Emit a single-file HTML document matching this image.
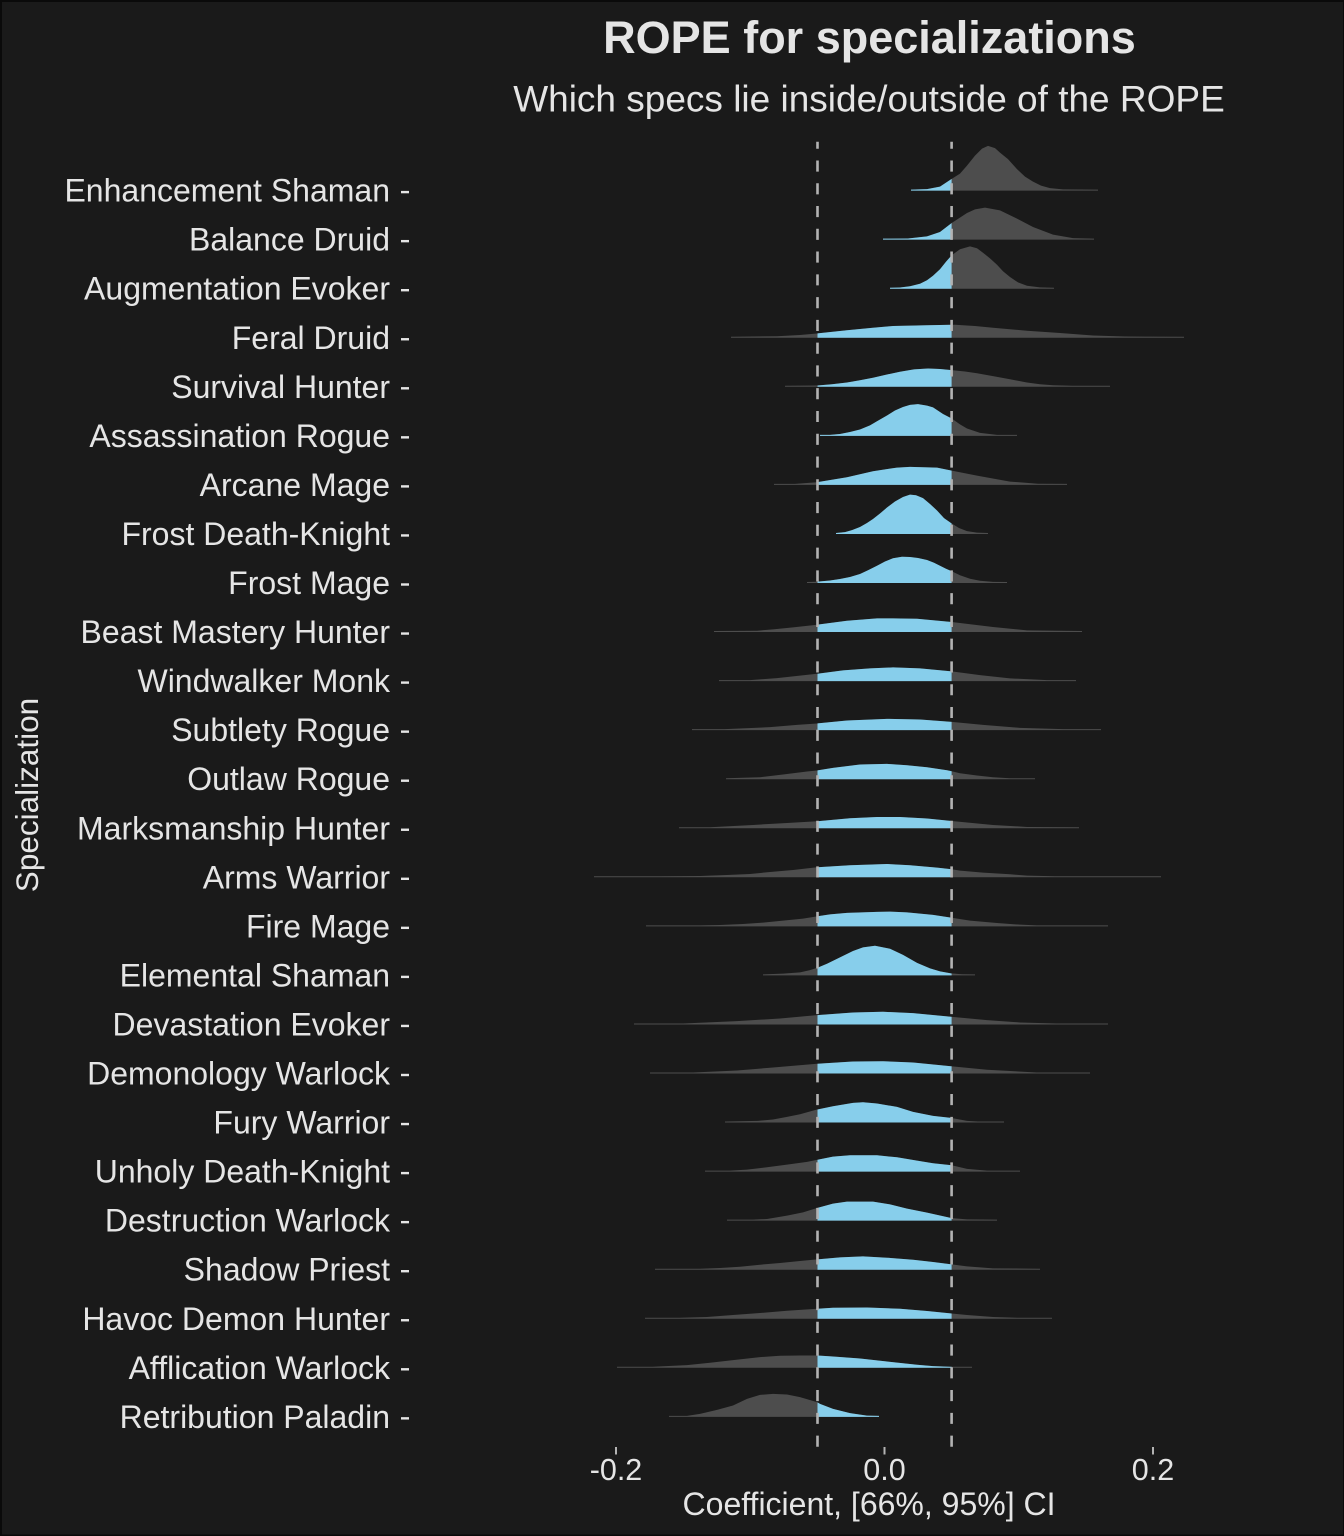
<!DOCTYPE html>
<html>
<head>
<meta charset="utf-8">
<style>
html,body{margin:0;padding:0;background:#1a1a1a;}
svg{display:block;}
text{font-family:"Liberation Sans",Arial,sans-serif;fill:#e5e5e5;}
</style>
</head>
<body>
<svg width="1344" height="1536" viewBox="0 0 1344 1536" xmlns="http://www.w3.org/2000/svg">
<rect x="0" y="0" width="1344" height="1536" fill="#1a1a1a"/>
<rect x="0" y="0" width="2" height="1536" fill="#0a0a0a"/>
<rect x="0" y="0" width="1344" height="2" fill="#0a0a0a"/>
<rect x="1343" y="0" width="1" height="1536" fill="#0a0a0a"/>
<rect x="0" y="1534.5" width="1344" height="1.5" fill="#0a0a0a"/>

<defs>
<clipPath id="rope" clipPathUnits="userSpaceOnUse"><rect x="817.5" y="100" width="134.1" height="1400"/></clipPath>
<polygon id="r0" transform="translate(0,190.6)" points="911,0 911,-1 927,-1.5 940,-4 951.7,-11.7 960,-17 967,-25 975,-35 982,-42 988,-44.7 995,-42.5 1000,-38 1008,-31.5 1017,-21.5 1025,-14 1033,-9 1041,-5 1050,-2.5 1063,-1.2 1098,-1 1098,0"/>
<polygon id="r1" transform="translate(0,239.65)" points="883,0 883,-1 908,-1.2 927,-3.3 940,-7.7 951.7,-16.7 967,-26.7 975,-30.3 985,-32 1000,-29.3 1017,-21 1033,-12.7 1053,-5 1073,-1.5 1094,-1 1094,0"/>
<polygon id="r2" transform="translate(0,288.7)" points="890,0 890,-1 900,-1.2 910,-2.5 920,-5 927,-8.5 933,-13 940,-19.5 946,-27 951.7,-33.5 960,-39.5 970,-42.3 977,-40.5 983,-36 990,-30.3 997,-24 1003,-17.5 1010,-11.7 1018,-6.3 1027,-3 1040,-1.3 1054,-1 1054,0"/>
<polygon id="r3" transform="translate(0,337.75)" points="731,0 731,-1 777,-1.5 800,-2.7 817,-4.3 847,-7.5 873,-10 893,-11.7 927,-12.5 955,-13 975,-11.8 993,-10 1027,-7 1060,-4.7 1093,-2.3 1125,-1.2 1184,-1 1184,0"/>
<polygon id="r4" transform="translate(0,386.8)" points="785,0 785,-1 817,-1.3 832,-2.5 847,-4.3 860,-6.5 873,-9 887,-12.3 900,-15 914,-17.4 928,-18.3 940,-17.8 951.7,-16.7 965,-15.3 977,-13.5 993,-10.7 1010,-7.5 1027,-4.3 1040,-2.6 1053,-1.6 1072,-1 1110,-1 1110,0"/>
<polygon id="r5" transform="translate(0,435.85)" points="820,0 820,-1 830,-1 840,-1.9 850,-3.8 860,-6.3 870,-10.5 877,-14.6 887,-20.4 895,-25.3 903,-28.9 910,-31 918,-31.7 927,-30.2 933,-28.5 943,-21.9 951.7,-17.3 960,-11.5 967,-7.3 980,-3 997,-1 1017,-1 1017,0"/>
<polygon id="r6" transform="translate(0,484.9)" points="774,0 774,-1 795,-1 817,-2.7 847,-7.7 873,-13.7 897,-17.3 910,-18 937,-17.3 951.7,-14.3 977,-9.3 1010,-3.3 1038,-1.2 1067,-1 1067,0"/>
<polygon id="r7" transform="translate(0,533.95)" points="836,0 836,-1 845,-1.8 852,-3.8 860,-7 867,-11 873,-15 880,-20.5 887,-26.4 895,-32.5 903,-37 910,-39.3 916,-38.7 923,-35.8 930,-29.9 937,-23.5 944,-15.8 951.7,-10.5 959,-6 967,-2.8 977,-1.3 988,-1 988,0"/>
<polygon id="r8" transform="translate(0,583.0)" points="807,0 807,-1 817,-1.3 830,-2.5 840,-4 850,-6 860,-9 868,-12.8 877,-17.3 885,-21.5 893,-24.8 902,-26.3 910,-26 918,-25 927,-23 934,-20.3 940,-17.3 946,-14.3 951.7,-11.7 960,-7.8 970,-4.3 980,-2.2 993,-1.1 1007,-1 1007,0"/>
<polygon id="r9" transform="translate(0,632.05)" points="714,0 714,-1 757,-1.3 773,-2.7 793,-4.7 817,-7.3 847,-11.3 877,-13.7 893,-13.7 917,-13.3 951.7,-10 960,-9 993,-5 1027,-1.7 1082,-1 1082,0"/>
<polygon id="r10" transform="translate(0,681.1)" points="719,0 719,-1 750,-1 777,-3 817,-7.3 843,-10.7 870,-12.7 893,-13.7 920,-12.7 951.7,-9.7 980,-6 1010,-2.7 1047,-1 1076,-1 1076,0"/>
<polygon id="r11" transform="translate(0,730.15)" points="692,0 692,-1 725,-1 770,-3 797,-5.3 817,-6.7 847,-9.7 887,-11.3 920,-10.7 951.7,-8.3 983,-5.3 1020,-2.3 1063,-1 1101,-1 1101,0"/>
<polygon id="r12" transform="translate(0,779.2)" points="726,0 726,-1 760,-2 783,-4.7 807,-7.7 817,-8.7 833,-11.3 860,-14.7 887,-15.3 907,-14 927,-12 947,-9 951.7,-8 960,-6 977,-3.7 993,-2 1010,-1 1035,-1 1035,0"/>
<polygon id="r13" transform="translate(0,828.25)" points="679,0 679,-1 710,-1 753,-3.3 787,-5.3 817,-7 850,-10 877,-11.3 900,-11.3 927,-9.7 951.7,-7.3 993,-3.3 1027,-1.3 1079,-1 1079,0"/>
<polygon id="r14" transform="translate(0,877.3)" points="594,0 594,-1 660,-1 700,-1.3 727,-2.3 750,-3.3 770,-5.3 793,-7.3 817,-10 850,-12 887,-13.3 910,-12 937,-9.7 951.7,-8 960,-6.7 983,-4.7 1010,-3 1027,-1.7 1055,-1 1161,-1 1161,0"/>
<polygon id="r15" transform="translate(0,926.35)" points="646,0 646,-1 700,-1 720,-1.3 743,-2.3 763,-3.7 783,-5.7 803,-7.7 817,-10 830,-12 847,-13.5 877,-14.5 890,-14.7 907,-14 933,-11.5 951,-8.7 970,-5.7 997,-3.3 1020,-1.7 1037,-1 1108,-1 1108,0"/>
<polygon id="r16" transform="translate(0,975.4)" points="763,0 763,-1 783,-1.8 800,-3 810,-5.3 817,-7.5 827,-11.6 840,-18 853,-24.4 863,-28 875,-29.7 890,-26.6 903,-20.5 917,-12.5 930,-7 940,-4 951,-2 962,-1.2 975,-1 975,0"/>
<polygon id="r17" transform="translate(0,1024.45)" points="634,0 634,-1 683,-1 737,-3.3 780,-6 817,-9.3 853,-12 883,-12.7 913,-11.3 951,-7.7 987,-4.3 1020,-2 1057,-1 1108,-1 1108,0"/>
<polygon id="r18" transform="translate(0,1073.5)" points="650,0 650,-1 693,-1 737,-3 773,-6 817,-9.7 853,-12 883,-12.3 913,-11 951,-7.3 987,-3.7 1037,-1 1090,-1 1090,0"/>
<polygon id="r19" transform="translate(0,1122.55)" points="725,0 725,-1 758,-1.7 773,-3 787,-5.7 800,-8.3 817,-13 833,-16.3 853,-19.7 863,-20.3 877,-19 897,-15.7 913,-10.7 933,-6.7 951,-4.7 967,-1.7 978,-1 1004,-1 1004,0"/>
<polygon id="r20" transform="translate(0,1171.6)" points="705,0 705,-1 730,-1 747,-2 767,-4.3 787,-7 807,-9.7 817,-11.7 833,-15 850,-16.3 877,-16.3 897,-14.3 917,-11 933,-8.3 951.7,-6.3 967,-2.7 987,-1 1020,-1 1020,0"/>
<polygon id="r21" transform="translate(0,1220.65)" points="727,0 727,-1 753,-1 767,-1.7 787,-5 803,-8.3 817,-12.7 833,-17 847,-19 873,-19 890,-16.3 907,-12 927,-8 951.7,-2.5 967,-1.3 997,-1 997,0"/>
<polygon id="r22" transform="translate(0,1269.7)" points="655,0 655,-1 700,-1 720,-1.7 740,-3 760,-5 780,-6.7 800,-8.7 817,-10.3 840,-12.3 863,-13.3 887,-12 913,-10 933,-7.7 951.7,-5.3 967,-3.3 993,-1.3 1040,-1 1040,0"/>
<polygon id="r23" transform="translate(0,1318.75)" points="645,0 645,-1 680,-1 707,-1.7 733,-3.7 760,-5.7 787,-8 817,-10 833,-11 867,-11.3 900,-10 927,-7.7 951.7,-5.3 967,-3.7 993,-1.7 1017,-1 1052,-1 1052,0"/>
<polygon id="r24" transform="translate(0,1367.8)" points="617,0 617,-1 653,-1 687,-2.7 710,-5 733,-7.7 760,-10.7 780,-12 800,-12.3 817,-12.3 833,-11.3 860,-9.3 887,-6.3 917,-3 933,-1.7 950,-1 972,-1 972,0"/>
<polygon id="r25" transform="translate(0,1416.85)" points="669,0 669,-1 687,-1 700,-3 717,-7 733,-11.3 747,-18 760,-22 773,-23 787,-22.3 800,-19.7 817,-14.7 820,-13 833,-8 850,-3.7 867,-1.2 879,-1 879,0"/>
</defs>

<!-- gray (outside ROPE) -->
<g fill="#4d4d4d">
<use href="#r0"/><use href="#r1"/><use href="#r2"/><use href="#r3"/><use href="#r4"/><use href="#r5"/><use href="#r6"/><use href="#r7"/><use href="#r8"/><use href="#r9"/><use href="#r10"/><use href="#r11"/><use href="#r12"/><use href="#r13"/><use href="#r14"/><use href="#r15"/><use href="#r16"/><use href="#r17"/><use href="#r18"/><use href="#r19"/><use href="#r20"/><use href="#r21"/><use href="#r22"/><use href="#r23"/><use href="#r24"/><use href="#r25"/>
</g>
<!-- blue (inside ROPE) -->
<g fill="#87ceeb" clip-path="url(#rope)">
<use href="#r0"/><use href="#r1"/><use href="#r2"/><use href="#r3"/><use href="#r4"/><use href="#r5"/><use href="#r6"/><use href="#r7"/><use href="#r8"/><use href="#r9"/><use href="#r10"/><use href="#r11"/><use href="#r12"/><use href="#r13"/><use href="#r14"/><use href="#r15"/><use href="#r16"/><use href="#r17"/><use href="#r18"/><use href="#r19"/><use href="#r20"/><use href="#r21"/><use href="#r22"/><use href="#r23"/><use href="#r24"/><use href="#r25"/>
</g>

<!-- ROPE dashed lines -->
<line x1="817.5" y1="1446.7" x2="817.5" y2="141.7" stroke="#b3b3b3" stroke-width="2.6" stroke-dasharray="11.1 11.67"/>
<line x1="951.6" y1="1446.7" x2="951.6" y2="141.7" stroke="#b3b3b3" stroke-width="2.6" stroke-dasharray="11.1 11.67"/>

<!-- x ticks -->
<g stroke="#b3b3b3" stroke-width="2">
<line x1="616" y1="1447" x2="616" y2="1454.5"/>
<line x1="884.5" y1="1447" x2="884.5" y2="1454.5"/>
<line x1="1153" y1="1447" x2="1153" y2="1454.5"/>
</g>
<g font-size="30.5" text-anchor="middle">
<text x="616" y="1480">-0.2</text>
<text x="884.5" y="1480">0.0</text>
<text x="1153" y="1480">0.2</text>
</g>

<!-- y labels -->
<g font-size="32" text-anchor="end">
<text x="390" y="201.6">Enhancement Shaman</text>
<text x="390" y="250.65">Balance Druid</text>
<text x="390" y="299.7">Augmentation Evoker</text>
<text x="390" y="348.75">Feral Druid</text>
<text x="390" y="397.8">Survival Hunter</text>
<text x="390" y="446.85">Assassination Rogue</text>
<text x="390" y="495.9">Arcane Mage</text>
<text x="390" y="544.95">Frost Death-Knight</text>
<text x="390" y="594.0">Frost Mage</text>
<text x="390" y="643.05">Beast Mastery Hunter</text>
<text x="390" y="692.1">Windwalker Monk</text>
<text x="390" y="741.15">Subtlety Rogue</text>
<text x="390" y="790.2">Outlaw Rogue</text>
<text x="390" y="839.25">Marksmanship Hunter</text>
<text x="390" y="888.3">Arms Warrior</text>
<text x="390" y="937.35">Fire Mage</text>
<text x="390" y="986.4">Elemental Shaman</text>
<text x="390" y="1035.45">Devastation Evoker</text>
<text x="390" y="1084.5">Demonology Warlock</text>
<text x="390" y="1133.55">Fury Warrior</text>
<text x="390" y="1182.6">Unholy Death-Knight</text>
<text x="390" y="1231.65">Destruction Warlock</text>
<text x="390" y="1280.7">Shadow Priest</text>
<text x="390" y="1329.75">Havoc Demon Hunter</text>
<text x="390" y="1378.8">Afflication Warlock</text>
<text x="390" y="1427.85">Retribution Paladin</text>
</g>
<!-- y tick dashes -->
<g fill="#e5e5e5">
<rect x="401" y="190.9" width="8" height="2.4"/>
<rect x="401" y="239.95" width="8" height="2.4"/>
<rect x="401" y="289.0" width="8" height="2.4"/>
<rect x="401" y="338.05" width="8" height="2.4"/>
<rect x="401" y="387.1" width="8" height="2.4"/>
<rect x="401" y="436.15" width="8" height="2.4"/>
<rect x="401" y="485.2" width="8" height="2.4"/>
<rect x="401" y="534.25" width="8" height="2.4"/>
<rect x="401" y="583.3" width="8" height="2.4"/>
<rect x="401" y="632.35" width="8" height="2.4"/>
<rect x="401" y="681.4" width="8" height="2.4"/>
<rect x="401" y="730.45" width="8" height="2.4"/>
<rect x="401" y="779.5" width="8" height="2.4"/>
<rect x="401" y="828.55" width="8" height="2.4"/>
<rect x="401" y="877.6" width="8" height="2.4"/>
<rect x="401" y="926.65" width="8" height="2.4"/>
<rect x="401" y="975.7" width="8" height="2.4"/>
<rect x="401" y="1024.75" width="8" height="2.4"/>
<rect x="401" y="1073.8" width="8" height="2.4"/>
<rect x="401" y="1122.85" width="8" height="2.4"/>
<rect x="401" y="1171.9" width="8" height="2.4"/>
<rect x="401" y="1220.95" width="8" height="2.4"/>
<rect x="401" y="1270.0" width="8" height="2.4"/>
<rect x="401" y="1319.05" width="8" height="2.4"/>
<rect x="401" y="1368.1" width="8" height="2.4"/>
<rect x="401" y="1417.15" width="8" height="2.4"/>
</g>

<!-- titles -->
<text x="869.5" y="53" font-size="45" font-weight="bold" text-anchor="middle">ROPE for specializations</text>
<text x="869" y="111.5" font-size="37" text-anchor="middle">Which specs lie inside/outside of the ROPE</text>
<text x="869" y="1515" font-size="32" text-anchor="middle">Coefficient, [66%, 95%] CI</text>
<text transform="translate(38,795) rotate(-90)" font-size="31.5" text-anchor="middle">Specialization</text>
</svg>
</body>
</html>
